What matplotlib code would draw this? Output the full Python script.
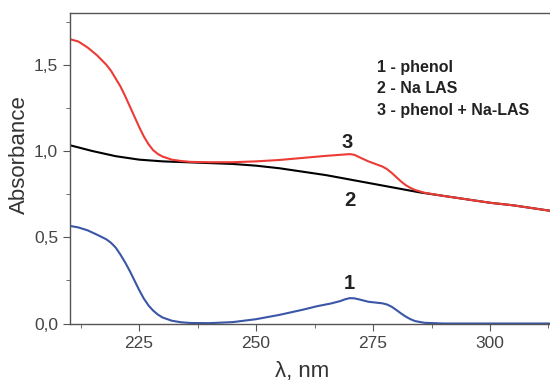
import numpy as np
import matplotlib
matplotlib.use("Agg")
import matplotlib.pyplot as plt
from matplotlib.ticker import MultipleLocator, FuncFormatter

plt.rcParams['font.family'] = ['Liberation Sans', 'DejaVu Sans']

# absorption spectra, wavelength in nm
wl_phenol = [210, 212, 214, 216, 218, 219, 220, 221, 222, 223, 224, 225, 226, 227, 228,
             229, 230, 232, 234, 236, 240, 245, 250, 255, 260, 263, 266, 268, 269, 270,
             271, 272, 274, 276, 277, 278, 279, 280, 281, 282, 283, 284, 286, 290, 300, 315]
abs_phenol = [0.567, 0.557, 0.540, 0.515, 0.488, 0.468, 0.440, 0.400, 0.355, 0.305, 0.250,
              0.195, 0.145, 0.105, 0.075, 0.052, 0.035, 0.016, 0.007, 0.003, 0.002, 0.008,
              0.025, 0.05, 0.08, 0.10, 0.116, 0.13, 0.14, 0.147, 0.146, 0.140, 0.126, 0.120,
              0.117, 0.110, 0.097, 0.078, 0.058, 0.040, 0.025, 0.014, 0.004, 0.0, 0.0, 0.0]

wl_las = [210, 215, 220, 225, 230, 235, 240, 245, 250, 255, 260, 265, 270, 275, 280,
          285, 290, 295, 300, 305, 310, 315]
abs_las = [1.035, 1.00, 0.97, 0.95, 0.94, 0.935, 0.93, 0.925, 0.915, 0.90, 0.88, 0.86,
           0.835, 0.81, 0.785, 0.76, 0.74, 0.72, 0.70, 0.685, 0.665, 0.645]

wl_mix = [210, 212, 214, 216, 218, 219, 220, 221, 222, 223, 224, 225, 226, 227, 228, 229,
          230, 232, 234, 236, 240, 245, 250, 255, 260, 265, 268, 270, 271, 272, 274, 276,
          277, 278, 279, 280, 281, 282, 283, 284, 286, 290, 295, 300, 305, 310, 315]
abs_mix = [1.65, 1.635, 1.60, 1.555, 1.50, 1.465, 1.42, 1.375, 1.32, 1.26, 1.20, 1.14,
           1.085, 1.04, 1.005, 0.983, 0.968, 0.950, 0.942, 0.937, 0.935, 0.935, 0.94, 0.948,
           0.96, 0.972, 0.978, 0.982, 0.978, 0.965, 0.940, 0.920, 0.910, 0.895, 0.873, 0.848,
           0.823, 0.802, 0.786, 0.774, 0.758, 0.74, 0.72, 0.70, 0.685, 0.665, 0.645]

legend_lines = ["1 - phenol", "2 - Na LAS", "3 - phenol + Na-LAS"]

fig = plt.figure(figsize=(5.5, 3.83), dpi=100)
ax = fig.add_axes([0.127, 0.154, 0.90, 0.812])

ax.plot(wl_phenol, abs_phenol, color='#3a56a6', lw=1.5)
ax.plot(wl_las, abs_las, color='black', lw=1.5)
ax.plot(wl_mix, abs_mix, color='#ec3b35', lw=1.5)

ax.set_xlim(210.2, 316)
ax.set_ylim(-0.003, 1.8)

ax.xaxis.set_major_locator(MultipleLocator(25))
ax.xaxis.set_minor_locator(MultipleLocator(12.5))
ax.yaxis.set_major_locator(MultipleLocator(0.5))
ax.yaxis.set_minor_locator(MultipleLocator(0.25))
ax.yaxis.set_major_formatter(FuncFormatter(lambda v, p: f"{v:.1f}".replace('.', ',')))

for s in ax.spines.values():
    s.set_color('#555555')
    s.set_linewidth(1.0)
ax.spines['right'].set_visible(False)
ax.tick_params(which='both', direction='out', colors='#555555', labelcolor='#444444',
               top=False, right=False)
ax.tick_params(which='major', length=5, labelsize=12.5)
ax.tick_params(which='minor', length=3)

ax.set_xlabel("λ, nm", fontsize=16, color='#333333')
ax.set_ylabel("Absorbance", fontsize=16, color='#333333')
ax.xaxis.set_label_coords(0.469, -0.12)
ax.yaxis.set_label_coords(-0.08, 0.545)

# curve numbers
ax.text(270, 0.175, "1", fontsize=14.5, fontweight='bold', ha='center', va='bottom', color='#222222')
ax.text(270, 0.77, "2", fontsize=14.5, fontweight='bold', ha='center', va='top', color='#222222')
ax.text(269.5, 0.995, "3", fontsize=14.5, fontweight='bold', ha='center', va='bottom', color='#222222')

for i, line in enumerate(legend_lines):
    ax.text(0.62, 0.826 - i * 0.069, line, transform=ax.transAxes, fontsize=11.5,
            fontweight='bold', color='#222222', va='center', ha='left')

fig.savefig("out.png", dpi=100)
